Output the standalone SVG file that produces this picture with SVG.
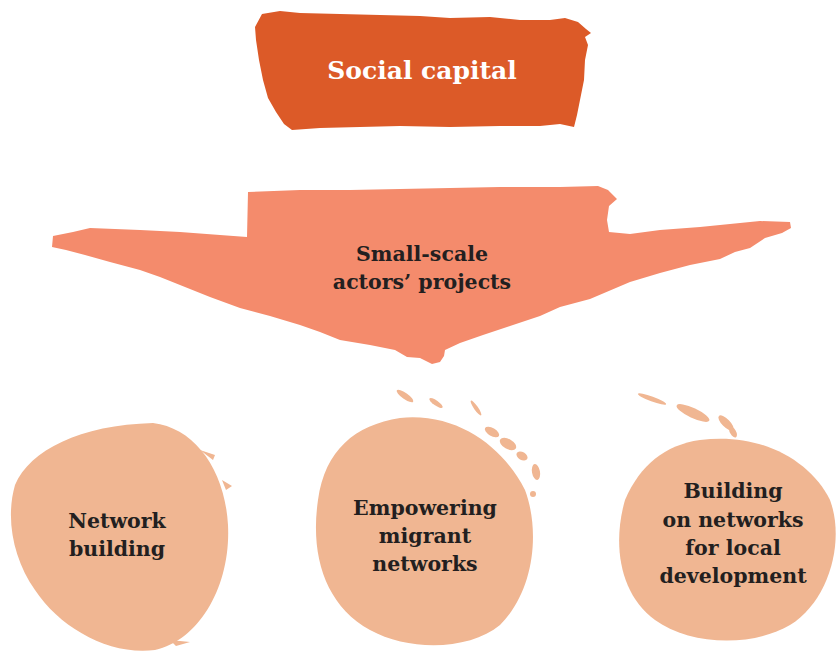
<svg xmlns="http://www.w3.org/2000/svg" width="837" height="655" viewBox="0 0 837 655">
<style>
  .lbl { font-family: "DejaVu Serif", "Liberation Serif", serif; font-weight: bold; fill: #231F20; text-anchor: middle; font-size: 20.5px; }
  .title { font-family: "DejaVu Serif", "Liberation Serif", serif; font-weight: bold; fill: #FFFFFF; text-anchor: middle; font-size: 25px; }
  .top { fill: #DC5A28; }
  .arrow { fill: #F48B6C; }
  .blob { fill: #F0B692; }
</style>
<rect width="837" height="655" fill="#FFFFFF"/>
<g id="social-capital">
  <path class="top" d="M 262,14 L 280,11 L 300,13 L 340,14 L 380,15 L 420,16 L 450,18 L 490,17 L 520,20 L 550,20 L 565,18 L 578,22 L 586,29 L 591,33 L 585,37 L 588,45 L 585,60 L 584,80 L 580,100 L 577,115 L 574,127 L 560,124 L 540,126 L 500,126 L 450,127 L 400,126 L 360,127 L 320,128 L 292,130 L 284,124 L 276,112 L 268,98 L 263,80 L 259,60 L 256,40 L 255,27 Z"/>
  <text class="title" x="422" y="79">Social capital</text>
</g>
<g id="small-scale-projects">
  <path class="arrow" d="M 248,192 L 300,190 L 350,190 L 400,189 L 450,188 L 500,187 L 560,187 L 598,186 L 608,190 L 617,199 L 609,206 L 607,220 L 609,232 L 630,234 L 660,230 L 700,227 L 730,224 L 760,221 L 790,222 L 791,228 L 782,233 L 765,238 L 750,248 L 735,252 L 720,259 L 690,265 L 660,273 L 630,282 L 590,299 L 560,307 L 540,316 L 510,326 L 483,335 L 460,343 L 445,350 L 444,356 L 440,362 L 432,364 L 420,358 L 407,357 L 395,350 L 370,345 L 340,340 L 320,332 L 300,325 L 270,316 L 240,308 L 210,297 L 180,285 L 160,277 L 140,270 L 110,262 L 85,255 L 66,250 L 52,247 L 53,236 L 73,232 L 90,228 L 115,229 L 140,230 L 180,232 L 220,235 L 247,237 Z"/>
  <text class="lbl" x="422" y="261">Small-scale</text>
  <text class="lbl" x="422" y="289">actors’ projects</text>
</g>
<g id="network-building">
  <path class="blob" d="M 153,423 C 195,428 225,470 228,525 C 231,585 200,640 155,650 C 110,656 60,628 35,590 C 14,560 5,520 15,485 C 30,450 80,425 153,423 Z"/>
  <path class="blob" d="M 200,450 L 215,455 L 213,460 Z M 222,480 L 232,486 L 226,490 Z M 170,640 L 190,642 L 176,646 Z"/>
  <text class="lbl" x="117" y="528">Network</text>
  <text class="lbl" x="117" y="556">building</text>
</g>
<g id="empowering-migrant-networks">
  <path class="blob" d="M 400,418 C 460,412 505,450 525,490 C 540,530 535,590 500,625 C 470,650 410,652 370,630 C 325,605 310,555 318,500 C 325,450 355,425 400,418 Z"/>
  <g class="blob">
    <ellipse cx="405" cy="396" rx="10" ry="3" transform="rotate(35 405 396)"/>
    <ellipse cx="436" cy="403" rx="8" ry="2.5" transform="rotate(35 436 403)"/>
    <ellipse cx="476" cy="408" rx="9" ry="2" transform="rotate(55 476 408)"/>
    <ellipse cx="492" cy="432" rx="8" ry="4" transform="rotate(30 492 432)"/>
    <ellipse cx="508" cy="444" rx="9" ry="5" transform="rotate(30 508 444)"/>
    <ellipse cx="522" cy="456" rx="6" ry="4" transform="rotate(30 522 456)"/>
    <ellipse cx="536" cy="472" rx="4" ry="8" transform="rotate(-10 536 472)"/>
    <circle cx="533" cy="494" r="3"/>
  </g>
  <text class="lbl" x="425" y="515">Empowering</text>
  <text class="lbl" x="425" y="543">migrant</text>
  <text class="lbl" x="425" y="571">networks</text>
</g>
<g id="building-on-networks">
  <path class="blob" d="M 700,440 C 760,432 810,460 830,500 C 845,540 830,600 790,625 C 750,648 690,645 655,620 C 620,595 612,545 625,500 C 640,465 665,445 700,440 Z"/>
  <g class="blob">
    <ellipse cx="652" cy="399" rx="15" ry="2.5" transform="rotate(20 652 399)"/>
    <ellipse cx="693" cy="413" rx="18" ry="5" transform="rotate(25 693 413)"/>
    <ellipse cx="726" cy="423" rx="10" ry="4" transform="rotate(45 726 423)"/>
    <ellipse cx="733" cy="432" rx="6" ry="3" transform="rotate(60 733 432)"/>
  </g>
  <text class="lbl" x="733" y="498">Building</text>
  <text class="lbl" x="733" y="527">on networks</text>
  <text class="lbl" x="733" y="555">for local</text>
  <text class="lbl" x="733" y="583">development</text>
</g>
<g id="connectors"/>
</svg>
